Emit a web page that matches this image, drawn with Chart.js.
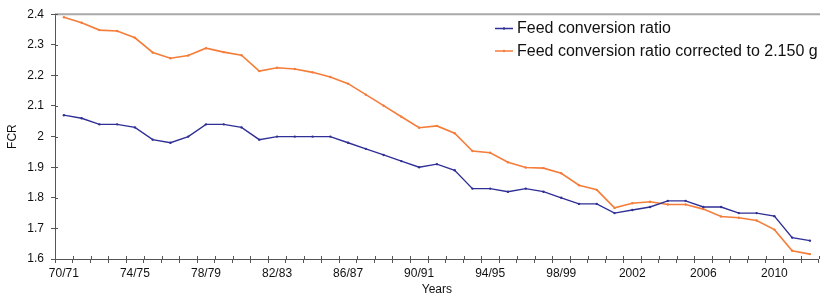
<!DOCTYPE html>
<html>
<head>
<meta charset="utf-8">
<script src="https://cdn.jsdelivr.net/npm/chart.js@4/dist/chart.umd.min.js"></script>
<style>
html,body{margin:0;padding:0;background:#fff;}
#wrap{width:820px;height:300px;position:relative;}
</style>
</head>
<body>
<div id="wrap"><canvas id="c" width="820" height="300"></canvas></div>
<script>
const categories = ["70/71","71/72","72/73","73/74","74/75","75/76","76/77","77/78","78/79","79/80",
  "80/81","81/82","82/83","83/84","84/85","85/86","86/87","87/88","88/89","89/90",
  "90/91","91/92","92/93","93/94","94/95","95/96","96/97","97/98","98/99","99/00",
  "00/01","01/02","2002","2003","2004","2005","2006","2007","2008","2009",
  "2010","2011","2012"];
const shownLabels = ["70/71","74/75","78/79","82/83","86/87","90/91","94/95","98/99","2002","2006","2010"];
const fcr = [2.07,2.06,2.04,2.04,2.03,1.99,1.98,2.00,2.04,2.04,
  2.03,1.99,2.00,2.00,2.00,2.00,1.98,1.96,1.94,1.92,
  1.90,1.91,1.89,1.83,1.83,1.82,1.83,1.82,1.80,1.78,
  1.78,1.75,1.76,1.77,1.79,1.79,1.77,1.77,1.75,1.75,
  1.74,1.67,1.66];
const fcrCorrected = [2.390,2.372,2.348,2.345,2.323,2.275,2.256,2.265,2.289,2.276,
  2.266,2.214,2.225,2.221,2.210,2.195,2.173,2.137,2.101,2.065,
  2.029,2.035,2.011,1.953,1.947,1.916,1.899,1.897,1.880,1.841,
  1.826,1.767,1.782,1.787,1.778,1.778,1.763,1.739,1.735,1.726,
  1.696,1.627,1.616];
const seriesNames = ["Feed conversion ratio","Feed conversion ratio corrected to 2.150 g"];
const yTicks = [1.6,1.7,1.8,1.9,2.0,2.1,2.2,2.3,2.4];

const BLUE = '#2f2f96';
const ORANGE = '#f57d3a';
const AXIS = '#555555';
const FONT = '"Liberation Sans", Arial, sans-serif';

const extras = {
  id: 'extras',
  afterDraw(chart) {
    const ctx = chart.ctx;
    const a = chart.chartArea;
    const xs = chart.scales.x, ys = chart.scales.y;
    ctx.save();
    // top border
    ctx.strokeStyle = '#a8a8a8';
    ctx.lineWidth = 2;
    ctx.beginPath(); ctx.moveTo(a.left, a.top); ctx.lineTo(chart.width, a.top); ctx.stroke();
    // inner tick parts
    ctx.strokeStyle = AXIS;
    ctx.lineWidth = 1;
    ctx.beginPath();
    for (let i = 0; i <= categories.length; i++) {
      const x = Math.round(xs.getPixelForValue(i - 0.5)) + 0.5;
      ctx.moveTo(x, a.bottom); ctx.lineTo(x, a.bottom - 3);
    }
    yTicks.forEach(v => {
      const y = Math.round(ys.getPixelForValue(v)) + 0.5;
      ctx.moveTo(a.left, y); ctx.lineTo(a.left + 3, y);
    });
    ctx.stroke();
    // legend
    const rows = [{c: BLUE, t: seriesNames[0], y: 28.5}, {c: ORANGE, t: seriesNames[1], y: 51}];
    ctx.font = '16px ' + FONT;
    ctx.textBaseline = 'middle';
    ctx.textAlign = 'left';
    rows.forEach(r => {
      ctx.strokeStyle = r.c; ctx.lineWidth = 1.5;
      ctx.beginPath(); ctx.moveTo(495, r.y); ctx.lineTo(513, r.y); ctx.stroke();
      ctx.fillStyle = r.c;
      ctx.beginPath(); ctx.arc(504, r.y, 1.2, 0, Math.PI * 2); ctx.fill();
      ctx.fillStyle = '#111';
      ctx.fillText(r.t, 517, r.y + 0.5);
    });
    ctx.restore();
  }
};

new Chart(document.getElementById('c'), {
  type: 'line',
  data: {
    labels: categories,
    datasets: [
      {label: seriesNames[0], data: fcr, borderColor: BLUE, backgroundColor: BLUE,
        borderWidth: 1.4, pointRadius: 1.2, pointBorderWidth: 0, pointHoverRadius: 0, tension: 0},
      {label: seriesNames[1], data: fcrCorrected, borderColor: ORANGE, backgroundColor: ORANGE,
        borderWidth: 1.6, pointRadius: 1.2, pointBorderWidth: 0, pointHoverRadius: 0, tension: 0}
    ]
  },
  options: {
    responsive: false,
    animation: false,
    events: [],
    layout: {padding: {top: 12, right: 0, left: 0, bottom: 0}},
    plugins: {legend: {display: false}, tooltip: {enabled: false}},
    scales: {
      x: {
        type: 'category',
        offset: true,
        grid: {display: true, offset: true, drawOnChartArea: false, drawTicks: true, tickLength: 4, color: AXIS},
        border: {display: true, color: AXIS, width: 1},
        ticks: {
          autoSkip: false, maxRotation: 0, minRotation: 0, padding: 3,
          color: '#111', font: {family: FONT, size: 12},
          callback: function(v, i) { const l = categories[i]; return shownLabels.includes(l) ? l : ''; }
        },
        title: {display: true, text: 'Years', color: '#111', font: {family: FONT, size: 12}, padding: {top: 2, bottom: 3}},
        afterFit: s => { s.height = 41; }
      },
      y: {
        min: 1.6, max: 2.4,
        afterBuildTicks: s => { s.ticks = yTicks.map(v => ({value: v})); },
        grid: {display: true, drawOnChartArea: false, drawTicks: true, tickLength: 4, color: AXIS},
        border: {display: true, color: AXIS, width: 1},
        ticks: {
          padding: 7, color: '#111', font: {family: FONT, size: 12},
          callback: v => String(Number(v.toFixed(1)))
        },
        title: {display: true, text: 'FCR', color: '#111', font: {family: FONT, size: 12}, padding: {top: 5, bottom: 0}},
        afterFit: s => { s.width = 55; }
      }
    }
  },
  plugins: [extras]
});
</script>
</body>
</html>
